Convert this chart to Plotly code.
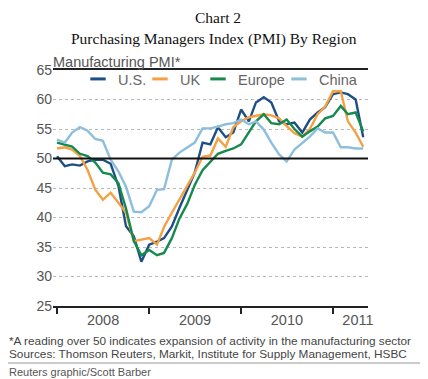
import plotly.graph_objects as go
import pandas as pd

months = list(pd.date_range("2008-01-01", periods=41, freq="MS").strftime("%Y-%m-%d"))

us = [50.4, 48.7, 49.0, 48.8, 49.5, 49.8, 49.8, 49.1, 45.3, 38.5, 36.8, 32.5,
      35.4, 35.9, 36.5, 38.5, 41.6, 44.7, 47.6, 52.7, 52.4, 55.3, 53.6, 54.4,
      58.3, 56.3, 59.5, 60.4, 59.5, 56.3, 55.8, 56.1, 54.4, 56.6, 57.8, 58.7,
      60.9, 61.2, 60.9, 60.0, 53.6]
uk = [51.7, 51.9, 51.5, 50.4, 48.1, 44.7, 43.0, 44.2, 42.5, 40.8, 36.0, 36.2,
      36.5, 35.4, 38.4, 40.8, 43.0, 45.2, 47.6, 50.3, 50.5, 53.4, 52.0, 55.3,
      56.3, 57.0, 57.2, 57.5, 57.3, 56.8, 55.5, 54.3, 53.7, 55.0, 57.5, 58.8,
      61.4, 61.4, 56.3, 54.4, 52.0]
europe = [52.7, 52.4, 52.0, 50.8, 50.4, 49.3, 47.6, 47.3, 45.8, 41.5, 36.0, 33.6,
          34.5, 33.6, 34.0, 36.5, 39.8, 42.3, 45.5, 48.0, 49.5, 50.8, 51.3, 51.7,
          52.4, 54.4, 56.3, 57.5, 56.0, 55.8, 56.6, 55.0, 53.7, 54.6, 55.4, 56.8,
          57.2, 58.9, 57.5, 57.8, 54.6]
china = [53.2, 52.7, 54.4, 55.3, 54.7, 53.3, 53.0, 49.8, 47.8, 45.2, 41.0, 40.9,
         41.9, 44.7, 44.8, 49.8, 51.0, 51.8, 52.7, 55.1, 55.1, 55.4, 55.8, 56.0,
         56.6, 55.8, 56.3, 54.9, 52.7, 50.7, 49.5, 51.5, 52.7, 53.7, 55.1, 54.4,
         54.4, 51.9, 51.9, 51.7, 51.7]

year_pos = ["2008-07-02", "2009-07-02", "2010-07-02", "2011-04-10"]
year_text = ["2008", "2009", "2010", "2011"]
y_ticks = [25, 30, 35, 40, 45, 50, 55, 60, 65]

series = [("U.S.", us, "#1d4f86"), ("UK", uk, "#f5a043"),
          ("Europe", europe, "#168a4c"), ("China", china, "#8cbedd")]
legend_text_x = [118, 180, 238, 319]   # page px where each legend label starts

# Page body adds an 8px offset; figure laid out in page px minus 8.
OFF = 8
W, H = 428 - OFF, 379 - OFF
L, T, R, B = 53 - OFF, 70 - OFF, 368 - OFF, 306 - OFF

def ypx(py):
    return 1 - (py - OFF - T) / (B - T)

def xpx(px):
    return (px - OFF - L) / (R - L)

fig = go.Figure()
legend_layouts = {}
for i, (name, vals, col) in enumerate(series):
    lg = "legend" if i == 0 else f"legend{i + 1}"
    fig.add_trace(go.Scatter(x=months, y=vals, name=name, mode="lines",
                             showlegend=False, line=dict(color=col, width=2.4)))
    # legend key: short dash, as in the original
    fig.add_trace(go.Scatter(x=[None], y=[None], name=name, mode="markers", legend=lg,
                             marker=dict(symbol="line-ew", size=11, color=col,
                                         line=dict(color=col, width=3))))
    legend_layouts[lg] = dict(
        orientation="h", x=xpx(legend_text_x[i] - 40), y=ypx(63), xanchor="left", yanchor="top",
        font=dict(family="Liberation Sans, Arial", size=14.5, color="#666"),
        itemwidth=30, bgcolor="rgba(0,0,0,0)")

fig.add_shape(type="line", xref="paper", yref="y", x0=0, x1=1, y0=50, y1=50,
              line=dict(color="#111", width=1.8), layer="above")

fig.update_layout(
    width=W, height=H,
    margin=dict(l=L, r=W - R, t=T, b=H - B),
    paper_bgcolor="white", plot_bgcolor="white",
    showlegend=True,
    font=dict(family="Liberation Sans, Arial", color="#555"),
    **legend_layouts,
)

fig.update_xaxes(
    range=["2007-12-16", "2011-05-20"],
    tickvals=year_pos, ticktext=year_text, ticks="", ticklen=0,
    tickfont=dict(size=14.5, color="#555"),
    showgrid=False, zeroline=False,
    showline=True, mirror=True, linecolor="#222", linewidth=1.8,
    minor=dict(ticks="outside", tick0="2008-01-01", dtick="M12", ticklen=6,
               tickcolor="#222", tickwidth=1.5, showgrid=False),
)
fig.update_yaxes(
    range=[25, 65], tickvals=y_ticks, ticks="",
    tickfont=dict(size=14, color="#555"),
    showgrid=True, gridcolor="#b8b8b8", griddash="dot", gridwidth=1,
    zeroline=False, showline=False,
)

texts = [
    ("Chart 2", 218, 8, "Liberation Serif, Times New Roman", 15.5, "#111", "center", "top"),
    ("Purchasing Managers Index (PMI) By Region", 214, 39, "Liberation Serif, Times New Roman", 15.5, "#111", "center", "middle"),
    ("Manufacturing PMI*", 52, 62, "Liberation Sans, Arial", 14.5, "#555", "left", "middle"),
    ("*A reading over 50 indicates expansion of activity in the manufacturing sector", 8, 341, "Liberation Sans, Arial", 11.8, "#444", "left", "middle"),
    ("Sources: Thomson Reuters, Markit, Institute for Supply Management, HSBC", 8, 354, "Liberation Sans, Arial", 11.8, "#444", "left", "middle"),
    ("Reuters graphic/Scott Barber", 8, 372, "Liberation Sans, Arial", 11.0, "#555", "left", "middle"),
]
for t, px, py, fam, sz, col, anc, yanc in texts:
    fig.add_annotation(text=t, x=xpx(px), y=ypx(py), xref="paper", yref="paper",
                       xanchor=anc, yanchor=yanc, showarrow=False, borderpad=0,
                       font=dict(family=fam, size=sz, color=col))

fig.add_shape(type="line", xref="paper", yref="paper", x0=xpx(8), x1=xpx(428),
              y0=ypx(363), y1=ypx(363), line=dict(color="#999", width=1))

fig.write_html("out.html")
